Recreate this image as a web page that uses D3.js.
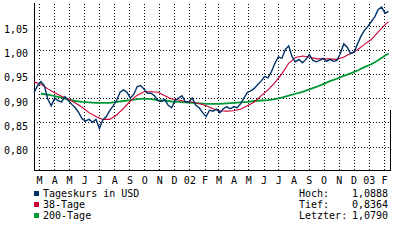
<!DOCTYPE html>
<html>
<head>
<meta charset="utf-8">
<script src="https://cdn.jsdelivr.net/npm/d3@7"></script>
<style>
body { margin: 0; background: #fff; }
svg text { font-family: "DejaVu Sans Mono", monospace; font-size: 10px; fill: #000; }
</style>
</head>
<body>
<div id="chart"></div>
<script>
// x range of the chart (weekly closes from 19 Feb 2001)
const startDate = new Date(2001, 1, 19);
const endDate = new Date(2003, 1, 13);

const monthLabels = ["M", "A", "M", "J", "J", "A", "S", "O", "N", "D", "02", "F",
                     "M", "A", "M", "J", "J", "A", "S", "O", "N", "D", "03", "F"];
const yTicks = [0.80, 0.85, 0.90, 0.95, 1.00, 1.05];

// weekly rate, one value per week
const dailyRate = [
  0.911, 0.925, 0.934, 0.926, 0.898, 0.884, 0.900, 0.895, 0.892, 0.903,
  0.895, 0.887, 0.880, 0.870, 0.857, 0.853, 0.856, 0.850, 0.856, 0.837,
  0.855, 0.862, 0.874, 0.884, 0.895, 0.912, 0.917, 0.912, 0.900, 0.908,
  0.924, 0.926, 0.918, 0.910, 0.910, 0.905, 0.895, 0.893, 0.897, 0.885,
  0.880, 0.895, 0.900, 0.905, 0.892, 0.893, 0.900, 0.885, 0.880, 0.870,
  0.862, 0.875, 0.873, 0.877, 0.870, 0.878, 0.882, 0.878, 0.882, 0.880,
  0.888, 0.900, 0.912, 0.915, 0.920, 0.928, 0.935, 0.945, 0.942, 0.955,
  0.972, 0.985, 0.982, 1.000, 1.008, 0.985, 0.975, 0.980, 0.973, 0.980,
  0.990, 0.978, 0.975, 0.978, 0.982, 0.976, 0.980, 0.976, 0.978, 0.992,
  1.012, 1.005, 0.992, 0.995, 1.012, 1.028, 1.040, 1.048, 1.058, 1.068,
  1.083, 1.088, 1.075, 1.079
];

// moving averages, read every second week (plus the last week)
const maWeeks = d3.range(0, 103, 2).concat([103]);
const ma38 = [
  0.933, 0.929, 0.919, 0.911, 0.904, 0.898, 0.890, 0.881, 0.870, 0.862,
  0.856, 0.856, 0.865, 0.879, 0.894, 0.906, 0.913, 0.913, 0.912, 0.905,
  0.898, 0.896, 0.893, 0.892, 0.889, 0.884, 0.878, 0.874, 0.873, 0.874,
  0.877, 0.884, 0.892, 0.905, 0.917, 0.932, 0.950, 0.972, 0.984, 0.987,
  0.985, 0.981, 0.981, 0.981, 0.980, 0.985, 0.992, 1.000, 1.011, 1.021,
  1.037, 1.052, 1.058
];
const ma200 = [
  0.909, 0.907, 0.904, 0.901, 0.897, 0.894, 0.892, 0.891, 0.890, 0.890,
  0.890, 0.892, 0.894, 0.896, 0.898, 0.899, 0.898, 0.896, 0.895, 0.893,
  0.892, 0.891, 0.890, 0.889, 0.888, 0.888, 0.888, 0.889, 0.890, 0.891,
  0.892, 0.894, 0.895, 0.896, 0.898, 0.901, 0.905, 0.909, 0.913, 0.918,
  0.923, 0.929, 0.935, 0.940, 0.946, 0.951, 0.957, 0.964, 0.970, 0.978,
  0.988, 0.992
];

const legendNames = ["Tageskurs in USD", "38-Tage", "200-Tage"];
const seriesColors = ["#003366", "#cc0033", "#009933"];
const statLabels = ["Hoch:", "Tief:", "Letzter:"];
const statValues = ["1,0888", "0,8364", "1,0790"];

const plot = { left: 34, right: 390, top: 3, bottom: 170 };

const svg = d3.select("#chart").append("svg")
    .attr("width", 400)
    .attr("height", 240);

const x = d3.scaleTime().domain([startDate, endDate]).range([plot.left, plot.right]);
const y = d3.scaleLinear().domain([0.80, 1.05]).range([146.5, 25.5]);

const weekDate = i => d3.timeDay.offset(startDate, 7 * i);
const months = d3.timeMonth.range(new Date(2001, 2, 1), new Date(2003, 1, 2));

// vertical grid + month labels
const xAxis = svg.append("g")
    .attr("transform", `translate(0,${plot.bottom})`)
    .call(d3.axisBottom(x)
        .tickValues(months)
        .tickSize(-(plot.bottom - plot.top))
        .tickFormat((d, i) => monthLabels[i]));
xAxis.select(".domain").remove();
xAxis.selectAll(".tick line")
    .attr("stroke", "#000")
    .attr("stroke-dasharray", "1,2")
    .attr("shape-rendering", "crispEdges");
xAxis.selectAll(".tick text")
    .attr("y", 14).attr("dy", null)
    .attr("font-family", null).attr("font-size", null);

// horizontal grid + value labels
const yAxis = svg.append("g")
    .attr("transform", `translate(${plot.left},0)`)
    .call(d3.axisLeft(y)
        .tickValues(yTicks)
        .tickSize(-(plot.right - plot.left))
        .tickPadding(6)
        .tickFormat(d => d3.format(".2f")(d).replace(".", ",")));
yAxis.select(".domain").remove();
yAxis.selectAll(".tick line")
    .attr("stroke", "#000")
    .attr("stroke-dasharray", "1,2")
    .attr("shape-rendering", "crispEdges");
yAxis.selectAll(".tick text")
    .attr("dy", null).attr("y", 7)
    .attr("font-family", null).attr("font-size", null);

// frame lines
svg.append("path")
    .attr("d", `M${plot.left + 0.5},${plot.top}V${plot.bottom + 0.5}H${plot.right}`)
    .attr("fill", "none").attr("stroke", "#000").attr("shape-rendering", "crispEdges");
svg.append("path")
    .attr("d", `M${plot.right + 0.5},110V${plot.bottom + 0.5}`)
    .attr("fill", "none").attr("stroke", "#000").attr("shape-rendering", "crispEdges");

const line = d3.line().x(d => x(d[0])).y(d => y(d[1]));

const series = [
    { data: maWeeks.slice(1).map((w, i) => [weekDate(w), ma200[i]]), color: seriesColors[2], width: 1.8 },
    { data: maWeeks.map((w, i) => [weekDate(w), ma38[i]]), color: seriesColors[1], width: 1.1 },
    { data: dailyRate.map((v, i) => [weekDate(i), v]), color: seriesColors[0], width: 1.4 }
];

svg.selectAll(".series")
    .data(series)
    .join("path")
    .attr("class", "series")
    .attr("fill", "none")
    .attr("stroke", d => d.color)
    .attr("stroke-width", d => d.width)
    .attr("stroke-linejoin", "miter")
    .attr("d", d => line(d.data));

// legend
const legend = svg.append("g");
legendNames.forEach((name, i) => {
    legend.append("rect")
        .attr("x", 34).attr("y", 191 + i * 11)
        .attr("width", 5).attr("height", 5)
        .attr("fill", seriesColors[i]);
    legend.append("text")
        .attr("x", 43).attr("y", 197 + i * 11)
        .text(name);
});

// high / low / last
statLabels.forEach((label, i) => {
    svg.append("text").attr("x", 299).attr("y", 197 + i * 11).text(label);
    svg.append("text").attr("x", 388).attr("y", 197 + i * 11)
        .attr("text-anchor", "end").text(statValues[i]);
});
</script>
</body>
</html>
